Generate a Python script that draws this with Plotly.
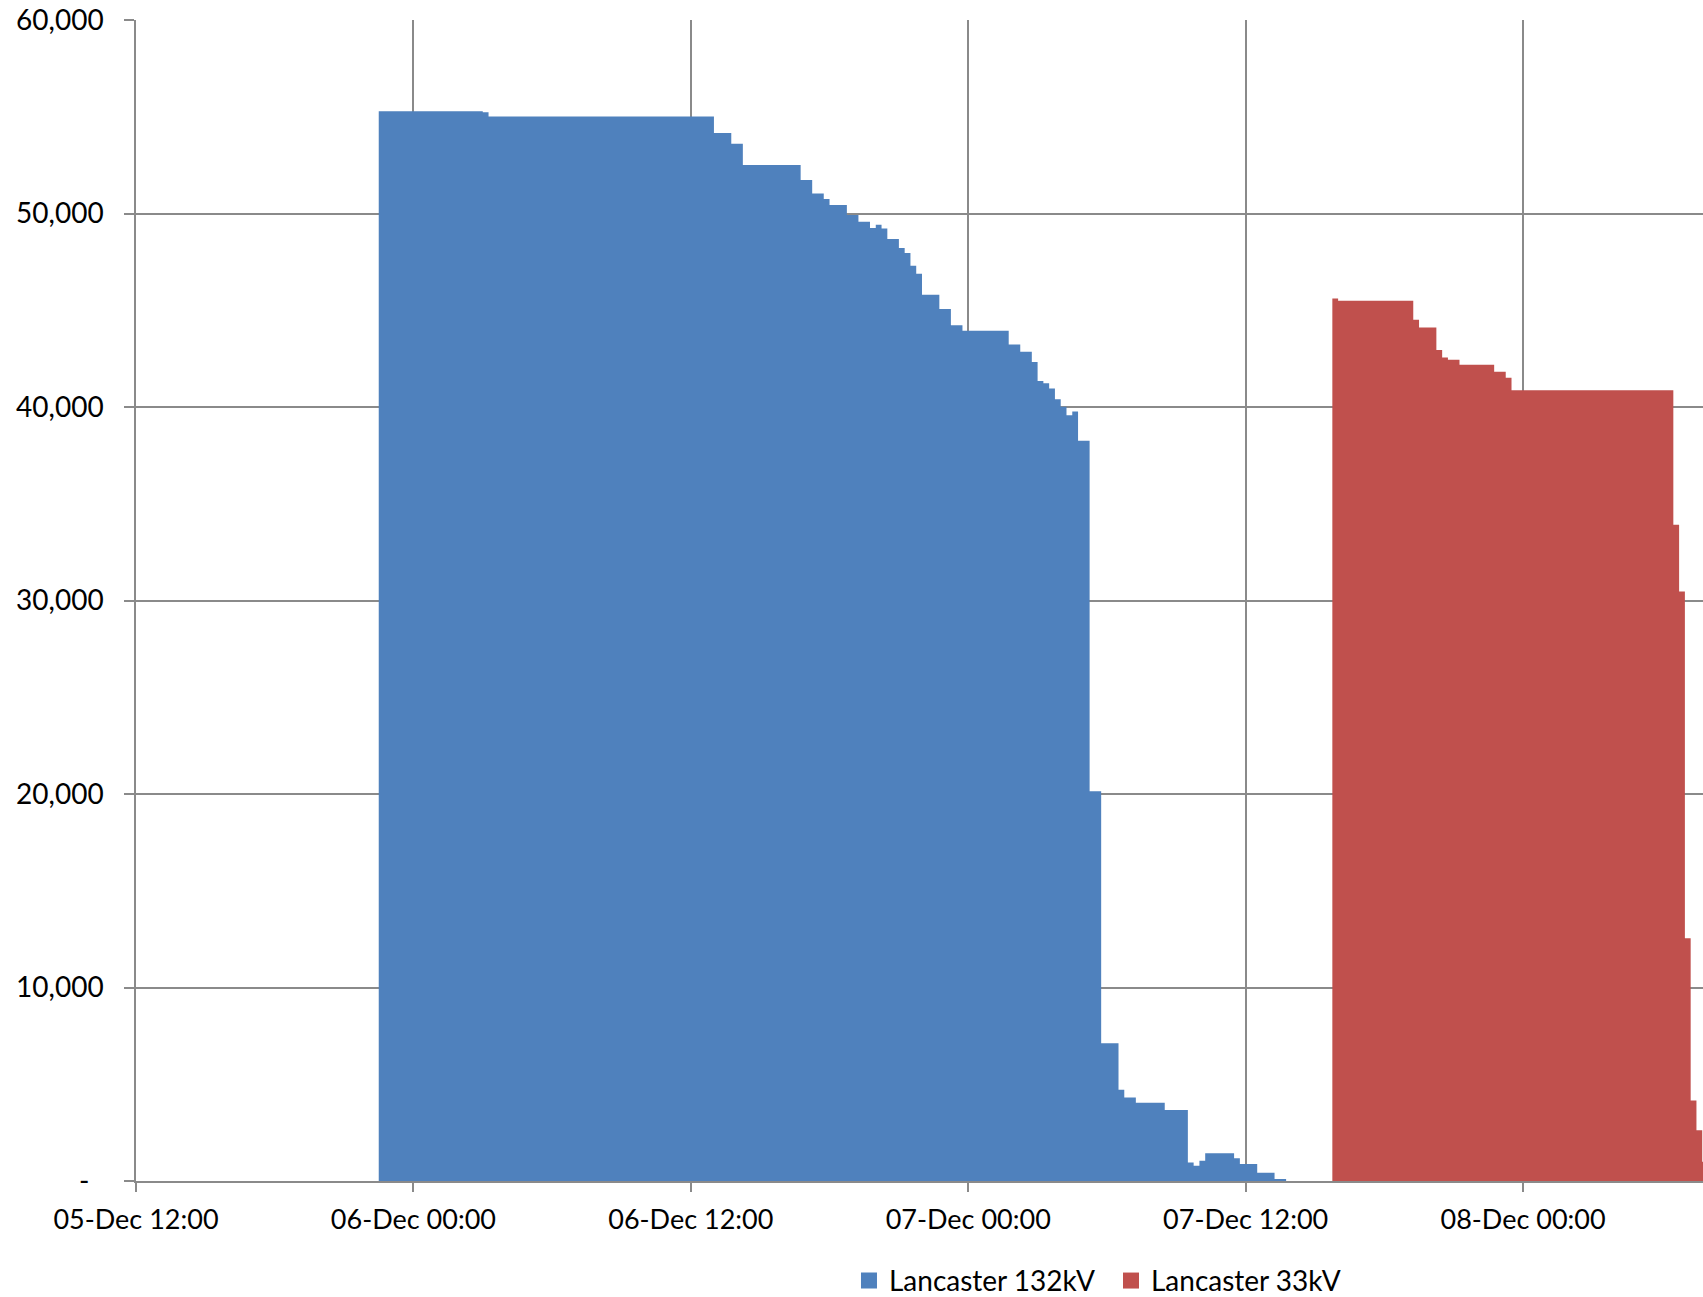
import plotly.graph_objects as go

# ---- data (step series, value holds until next time) ----
blue_times = [
    "2015-12-05 22:30", "2015-12-06 03:00", "2015-12-06 03:15", "2015-12-06 13:00",
    "2015-12-06 13:45", "2015-12-06 14:15", "2015-12-06 16:45", "2015-12-06 17:15",
    "2015-12-06 17:45", "2015-12-06 18:00", "2015-12-06 18:45", "2015-12-06 19:15",
    "2015-12-06 19:45", "2015-12-06 20:00", "2015-12-06 20:15", "2015-12-06 20:30",
    "2015-12-06 21:00", "2015-12-06 21:15", "2015-12-06 21:30", "2015-12-06 21:45",
    "2015-12-06 22:00", "2015-12-06 22:45", "2015-12-06 23:15", "2015-12-06 23:45",
    "2015-12-07 01:45", "2015-12-07 02:15", "2015-12-07 02:45", "2015-12-07 03:00",
    "2015-12-07 03:15", "2015-12-07 03:30", "2015-12-07 03:45", "2015-12-07 04:00",
    "2015-12-07 04:15", "2015-12-07 04:30", "2015-12-07 04:45", "2015-12-07 05:15",
    "2015-12-07 05:45", "2015-12-07 06:30", "2015-12-07 06:45", "2015-12-07 07:15",
    "2015-12-07 08:30", "2015-12-07 09:30", "2015-12-07 09:45", "2015-12-07 10:00",
    "2015-12-07 10:15", "2015-12-07 11:30", "2015-12-07 11:45", "2015-12-07 12:30",
    "2015-12-07 13:15", "2015-12-07 13:45",
]
blue_values = [
    55290, 55230, 55010, 54160,
    53600, 52510, 51730, 51030,
    50750, 50440, 49920, 49580,
    49250, 49420, 49230, 48680,
    48220, 47960, 47300, 46890,
    45800, 45060, 44230, 43940,
    43230, 42850, 42330, 41350,
    41230, 40960, 40400, 40010,
    39580, 39770, 38250, 20140,
    7120, 4710, 4310, 4050,
    3670, 950, 790, 1050,
    1430, 1170, 880, 430,
    100, 0,
]

red_times = [
    "2015-12-07 15:45", "2015-12-07 16:00", "2015-12-07 19:15", "2015-12-07 19:30",
    "2015-12-07 20:15", "2015-12-07 20:30", "2015-12-07 20:45", "2015-12-07 21:15",
    "2015-12-07 22:45", "2015-12-07 23:15", "2015-12-07 23:30", "2015-12-08 06:30",
    "2015-12-08 06:45", "2015-12-08 07:00", "2015-12-08 07:15", "2015-12-08 07:30",
    "2015-12-08 07:45", "2015-12-08 08:00",
]
red_values = [
    45610, 45490, 44510, 44110,
    42940, 42560, 42440, 42180,
    41820, 41510, 40870, 33920,
    30460, 12540, 4160, 2620,
    1000, 0,
]

series_names = ["Lancaster 132kV", "Lancaster 33kV"]
series_colors = ["#4F81BD", "#C0504D"]

y_tickvals = [0, 10000, 20000, 30000, 40000, 50000, 60000]
y_ticktext = ["-\u00a0\u00a0", "10,000", "20,000", "30,000", "40,000", "50,000", "60,000"]

x_range = ["2015-12-05 12:00", "2015-12-08 07:47"]

FONT = "Lato"
GRID = "#8A8A8A"

fig = go.Figure()
for t, v, name, col in [(blue_times, blue_values, series_names[0], series_colors[0]),
                        (red_times, red_values, series_names[1], series_colors[1])]:
    fig.add_trace(go.Scatter(
        x=t, y=v, mode="lines", line=dict(width=0, shape="hv", color=col),
        fill="tozeroy", fillcolor=col, name=name, showlegend=False,
    ))
for name, col in zip(series_names, series_colors):
    fig.add_trace(go.Scatter(
        x=[None], y=[None], mode="markers", name=name,
        marker=dict(symbol="square", size=16, color=col),
    ))

fig.update_layout(
    width=1703, height=1297,
    margin=dict(l=136, r=0, t=20, b=116, autoexpand=False),
    paper_bgcolor="white", plot_bgcolor="white",
    font=dict(family=FONT, size=27, color="#000000"),
    legend=dict(orientation="h", x=0.455, xanchor="left", y=-0.086, yanchor="middle",
                font=dict(family=FONT, size=28, color="#000000"),
                itemsizing="trace", itemwidth=30, tracegroupgap=0,
                entrywidth=217, entrywidthmode="pixels"),
)
fig.update_xaxes(
    type="date", range=x_range,
    tick0="2015-12-05 12:00", dtick=12 * 3600 * 1000, tickformat="%d-%b %H:%M",
    showgrid=True, gridcolor=GRID, gridwidth=1.5,
    showline=True, linecolor=GRID, linewidth=1.5,
    ticks="outside", ticklen=9, tickcolor=GRID, tickwidth=1.5,
    ticklabelstandoff=5, zeroline=False,
    tickfont=dict(family=FONT, size=27, color="#000000"),
)
fig.update_yaxes(
    range=[0, 60000], tickvals=y_tickvals, ticktext=y_ticktext,
    showgrid=True, gridcolor=GRID, gridwidth=1.5,
    showline=True, linecolor=GRID, linewidth=1.5,
    ticks="outside", ticklen=10, tickcolor=GRID, tickwidth=1.5,
    ticklabelstandoff=15, zeroline=False,
    tickfont=dict(family=FONT, size=28, color="#000000"),
)

fig.write_html("out.html")
